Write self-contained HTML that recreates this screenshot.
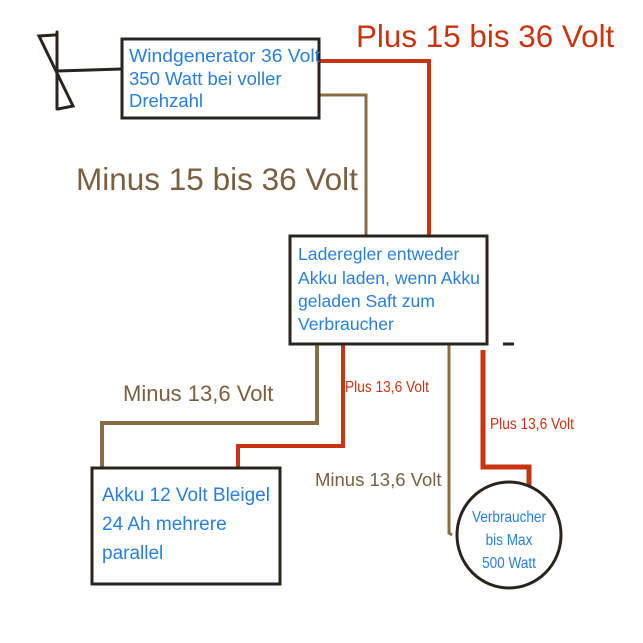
<!DOCTYPE html>
<html><head><meta charset="utf-8"><style>html,body{margin:0;padding:0;background:#fff}svg{display:block}</style></head>
<body>
<svg width="643" height="643" viewBox="0 0 643 643" xmlns="http://www.w3.org/2000/svg" font-family="Liberation Sans, sans-serif">
<rect width="643" height="643" fill="#fff"/>
<!-- fan -->
<g stroke="#2a241e" stroke-width="3" fill="none" stroke-linecap="round">
<line x1="57" y1="32" x2="57" y2="109"/>
<polyline points="55,35 39,36 73,106 58,109"/>
<polyline points="57,71 90,70 122,69"/>
</g>
<!-- wires -->
<g fill="none" stroke-linejoin="miter">
<polyline points="319,61 429,61 429,236" stroke="#c83412" stroke-width="4"/>
<polyline points="319,95 366,95 366,236" stroke="#8b6c42" stroke-width="3"/>
<polyline points="317,345 317,423 102,423 102,468" stroke="#8b6c42" stroke-width="4"/>
<polyline points="343,345 343,446 238,446 238,467" stroke="#c83412" stroke-width="4"/>
<polyline points="449,345 449,533 452,535" stroke="#8b6c42" stroke-width="3"/>
<polyline points="483,350 483,467 529,467 529,486" stroke="#c83412" stroke-width="5"/>
</g>
<line x1="503" y1="344" x2="514" y2="344" stroke="#2a241e" stroke-width="3"/>
<!-- boxes -->
<rect x="122" y="39" width="197" height="79" fill="#fff" stroke="#2a241e" stroke-width="3"/>
<rect x="290" y="236" width="197" height="108" fill="#fff" stroke="#2a241e" stroke-width="3"/>
<rect x="92" y="468" width="188" height="116" fill="#fff" stroke="#2a241e" stroke-width="3"/>
<ellipse cx="509" cy="535" rx="52" ry="53" fill="#fff" stroke="#2a241e" stroke-width="3"/>
<!-- text -->
<g fill="#2a7fd8">
<text x="129" y="62" font-size="18.5" textLength="191" lengthAdjust="spacingAndGlyphs">Windgenerator 36 Volt</text>
<text x="129" y="85" font-size="18.5">350 Watt bei voller</text>
<text x="129" y="107" font-size="18.5">Drehzahl</text>
<text x="298" y="260" font-size="17.6">Laderegler entweder</text>
<text x="298" y="284" font-size="17.6">Akku laden, wenn Akku</text>
<text x="298" y="307" font-size="17.6">geladen Saft zum</text>
<text x="298" y="330" font-size="17.6">Verbraucher</text>
<text x="102" y="501" font-size="19">Akku 12 Volt Bleigel</text>
<text x="102" y="530" font-size="19">24 Ah mehrere</text>
<text x="102" y="559" font-size="19">parallel</text>
<g font-size="16" text-anchor="middle" transform="translate(509,0) scale(0.85,1)">
<text x="0" y="522">Verbraucher</text>
<text x="0" y="545">bis Max</text>
<text x="0" y="568">500 Watt</text>
</g>
</g>
<text x="356" y="47" font-size="31.4" fill="#c83412">Plus 15 bis 36 Volt</text>
<text x="76" y="190" font-size="31.5" fill="#7a6040">Minus 15 bis 36 Volt</text>
<text x="123" y="401" font-size="22" fill="#7a6040">Minus 13,6 Volt</text>
<text x="315" y="486" font-size="18.5" fill="#7a6040">Minus 13,6 Volt</text>
<text transform="translate(345,392) scale(0.88,1)" font-size="15.6" fill="#c83412">Plus 13,6 Volt</text>
<text transform="translate(490,429) scale(0.88,1)" font-size="15.6" fill="#c83412">Plus 13,6 Volt</text>
</svg>
</body></html>
